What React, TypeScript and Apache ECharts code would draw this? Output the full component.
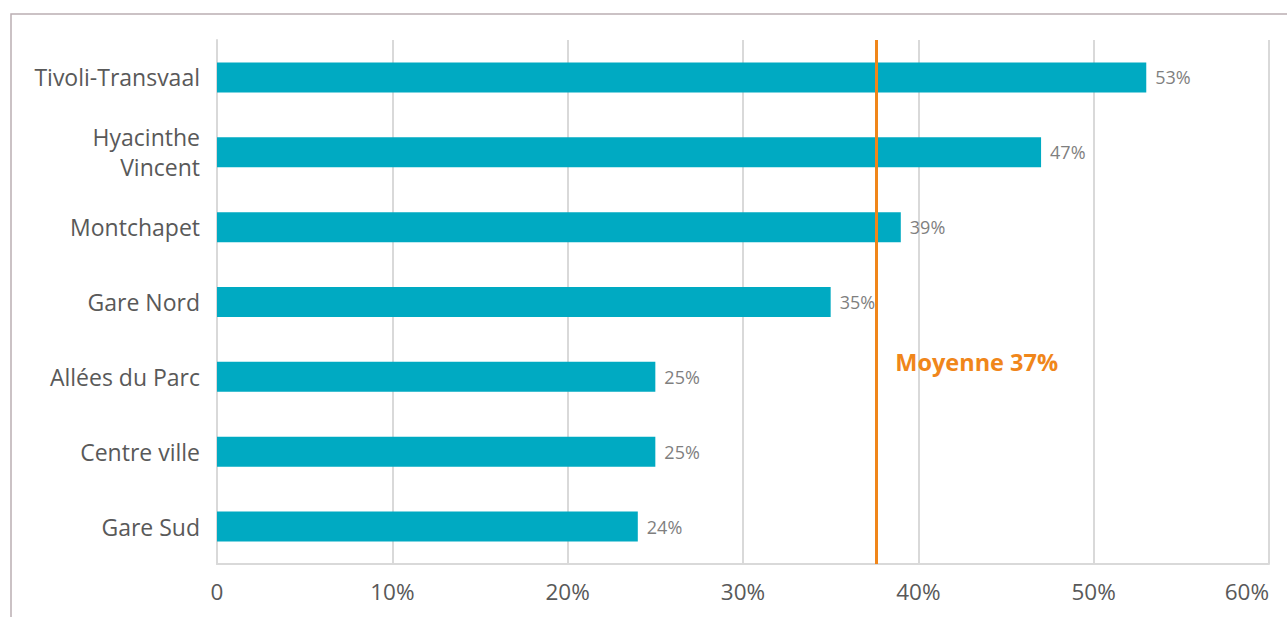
import React, { useEffect, useRef } from "react";
import * as echarts from "echarts";

const categories = [
  "Tivoli-Transvaal",
  "Hyacinthe\nVincent",
  "Montchapet",
  "Gare Nord",
  "Allées du Parc",
  "Centre ville",
  "Gare Sud",
];
const values = [53, 47, 39, 35, 25, 25, 24];
const averageValue = 37.6;
const averageLabel = "Moyenne 37%";
const xTicks = [0, 10, 20, 30, 40, 50, 60];

const FONT = "Open Sans";
const BAR = "#00AAC2";
const ORANGE = "#F0861A";

export default function App() {
  const ref = useRef<HTMLDivElement>(null);
  useEffect(() => {
    if (!ref.current) return;
    const chart = echarts.init(ref.current, undefined, { renderer: "svg" });
    const option: any = {
      animation: false,
      backgroundColor: "#ffffff",
      grid: { left: 217, right: 18, top: 40, bottom: 53, containLabel: false },
      xAxis: {
        type: "value",
        min: xTicks[0],
        max: xTicks[xTicks.length - 1],
        interval: 10,
        axisLine: { show: true, lineStyle: { color: "#D9D9D9", width: 2 } },
        axisTick: { show: false },
        splitLine: { show: true, lineStyle: { color: "#D9D9D9", width: 2 } },
        axisLabel: {
          color: "#595959",
          fontFamily: FONT,
          fontSize: 22.5,
          margin: 16,
          alignMaxLabel: "right",
          formatter: (v: number) => (v === 0 ? "0" : v + "%"),
        },
      },
      yAxis: {
        type: "category",
        data: categories,
        inverse: true,
        axisLine: { show: true, lineStyle: { color: "#D9D9D9", width: 2 } },
        axisTick: { show: false },
        axisLabel: {
          color: "#595959",
          fontFamily: FONT,
          fontSize: 23,
          margin: 17,
          lineHeight: 30,
          padding: [0, 0, 4, 0],
        },
      },
      series: [
        {
          type: "bar",
          data: values,
          barWidth: 30,
          itemStyle: { color: BAR },
          label: {
            show: true,
            position: "right",
            distance: 9,
            color: "#7F7F7F",
            fontFamily: FONT,
            fontSize: 18,
            formatter: (p: any) => p.value + "%",
          },
          markLine: {
            silent: true,
            symbol: "none",
            label: { show: false },
            lineStyle: { color: ORANGE, width: 3, type: "solid" },
            data: [{ xAxis: averageValue }],
          },
        },
      ],
    };
    chart.setOption(option);
    const px = chart.convertToPixel({ xAxisIndex: 0 }, averageValue) as number;
    const py = chart.convertToPixel({ yAxisIndex: 0 }, categories[4]) as number;
    chart.setOption({
      graphic: [
        {
          type: "rect",
          shape: { x: 11, y: 14, width: 1400, height: 700 },
          style: { fill: "none", stroke: "#BBAFB3", lineWidth: 1.5 },
          silent: true,
          z: -1,
        },
        {
          type: "text",
          x: px + 19,
          y: py - 15,
          style: {
            text: averageLabel,
            fill: ORANGE,
            font: `bold 23.5px "${FONT}"`,
            textVerticalAlign: "middle",
          },
        },
      ],
    });
    return () => chart.dispose();
  }, []);
  return (
    <div
      ref={ref}
      style={{ position: "fixed", left: 0, top: 0, width: 1287, height: 617 }}
    />
  );
}
